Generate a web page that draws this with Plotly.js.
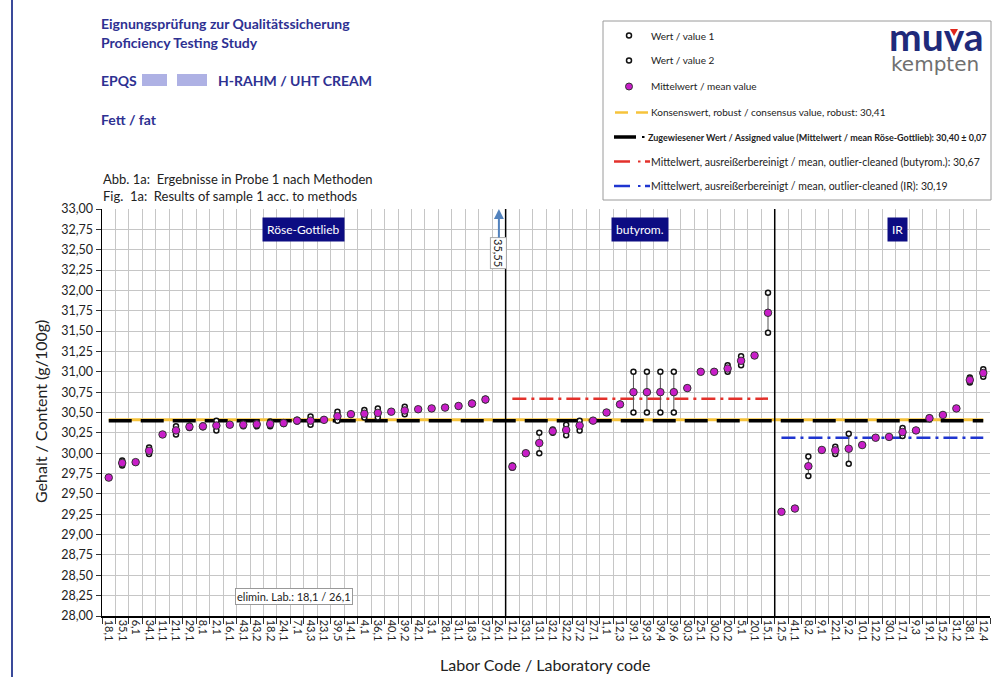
<!DOCTYPE html>
<html><head><meta charset="utf-8">
<script src="https://cdn.plot.ly/plotly-3.0.1.min.js"></script>
<style>html,body{margin:0;padding:0;background:#fff}#chart{width:1000px;height:677px}</style>
</head><body><div id="chart"></div>
<script>
// ---------- DATA ----------
const rgLabs = ['18,1','35,1','6,1','34,1','11,1','21,1','29,1','8,1','2,1','16,1','43,1','43,2','18,2','24,1','7,1','43,3','23,1','39,5','14,1','4,1','36,1','40,1','39,2','42,1','3,1','28,1','31,1','18,3','37,1','26,1'];
const rgValue1 = [29.70,29.91,29.89,30.07,30.23,30.33,30.34,30.34,30.40,30.35,30.37,30.38,30.39,30.38,30.41,30.45,30.41,30.51,30.48,30.53,30.55,30.51,30.57,30.54,30.55,30.56,30.58,30.62,30.67,35.55];
const rgValue2 = [29.70,29.85,29.89,29.99,30.23,30.23,30.31,30.32,30.28,30.35,30.33,30.33,30.33,30.36,30.39,30.35,30.41,30.40,30.48,30.44,30.44,30.51,30.48,30.54,30.55,30.56,30.58,30.60,30.65,35.55];
const rgMean   = [29.70,29.88,29.89,30.03,30.23,30.28,30.325,30.33,30.34,30.35,30.35,30.355,30.36,30.37,30.40,30.40,30.41,30.455,30.48,30.485,30.495,30.51,30.525,30.54,30.55,30.56,30.58,30.61,30.66,35.55];

const buLabs = ['12,1','33,1','13,1','32,1','32,2','37,2','27,1','1,1','12,3','39,1','39,3','39,4','39,6','30,3','25,1','30,2','20,2','5,1','20,1','15,1'];
const buValue1 = [29.85,30.00,30.25,30.29,30.35,30.40,30.40,30.50,30.60,31.00,31.00,31.00,31.00,30.80,31.00,31.00,31.08,31.19,31.20,31.97];
const buValue2 = [29.82,30.00,30.00,30.25,30.22,30.28,30.40,30.50,30.60,30.50,30.50,30.50,30.50,30.80,31.00,31.00,31.00,31.08,31.20,31.48];
const buMean   = [29.835,30.00,30.125,30.27,30.285,30.34,30.40,30.50,30.60,30.75,30.75,30.75,30.75,30.80,31.00,31.00,31.04,31.135,31.20,31.725];

const irLabs = ['12,5','41,1','8,2','9,1','22,1','9,2','10,1','12,2','30,1','17,1','9,3','19,1','15,2','31,2','38,1','12,4'];
const irValue1 = [29.28,29.32,29.96,30.04,30.08,30.24,30.10,30.19,30.20,30.31,30.28,30.44,30.47,30.55,30.93,31.03];
const irValue2 = [29.28,29.32,29.72,30.04,29.99,29.87,30.10,30.19,30.20,30.21,30.28,30.42,30.47,30.55,30.87,30.94];
const irMean   = [29.28,29.32,29.84,30.04,30.035,30.055,30.10,30.19,30.20,30.26,30.28,30.43,30.47,30.55,30.90,30.985];

const consensusValue = 30.41;
const assignedValue = 30.40;
const assignedUnc = 0.07;
const butyromMean = 30.67;
const irMeanCleaned = 30.19;
const methodNames = ['Röse-Gottlieb','butyrom.','IR'];
const eliminatedLabs = ['18,1','26,1'];

// ---------- LAYOUT HELPERS ----------
const W=1000,H=677,M={l:102,r:10,t:209,b:61};
const PW=W-M.l-M.r, PH=H-M.t-M.b;
const px = x => (x-M.l)/PW;
const py = y => 1-(y-M.t)/PH;
const fmt = v => v.toFixed(2).replace('.',',');
const FONT = 'Lato, "Liberation Sans", sans-serif';
const NAVY = '#2e3192';

const allCats = rgLabs.concat(buLabs, irLabs);
const value1 = rgValue1.concat(buValue1, irValue1);
const value2 = rgValue2.concat(buValue2, irValue2);
const meanV = rgMean.concat(buMean, irMean);

const connX=[], connY=[];
allCats.forEach((c,i)=>{ if(value1[i]!==value2[i]){ connX.push(c,c,null); connY.push(value1[i],value2[i],null);} });

const first = allCats[0], last = allCats[allCats.length-1];
const traces = [
  {x:[first,last], y:[consensusValue,consensusValue], mode:'lines', line:{color:'#f6c33b', width:3}, hoverinfo:'skip'},
  {x:[first,last], y:[assignedValue,assignedValue], mode:'lines', line:{color:'#000', width:3.5, dash:'23px,9px'}, hoverinfo:'skip'},
  {x:[buLabs[0],buLabs[buLabs.length-1]], y:[butyromMean,butyromMean], mode:'lines', line:{color:'#e3312b', width:2.5, dash:'14px,5px,3px,5px'}, hoverinfo:'skip'},
  {x:[irLabs[0],irLabs[irLabs.length-1]], y:[irMeanCleaned,irMeanCleaned], mode:'lines', line:{color:'#1f35d0', width:2.5, dash:'14px,5px,3px,5px'}, hoverinfo:'skip'},
  {x:connX, y:connY, mode:'lines', line:{color:'#555', width:1}, hoverinfo:'skip', connectgaps:false},
  {x:allCats, y:value1, mode:'markers', marker:{size:5, color:'#fff', line:{color:'#111', width:1.5}}, hoverinfo:'skip'},
  {x:allCats, y:value2, mode:'markers', marker:{size:5, color:'#fff', line:{color:'#111', width:1.5}}, hoverinfo:'skip'},
  {x:allCats, y:meanV, mode:'markers', marker:{size:7.5, color:'#c81ec8', line:{color:'#333', width:1}}, hoverinfo:'skip'}
];

const rgEnd = rgLabs.length-0.5, buEnd = rgLabs.length+buLabs.length-0.5;
const shapes = [
  {type:'line', xref:'x', yref:'paper', x0:rgEnd, x1:rgEnd, y0:0, y1:1, line:{color:'#000', width:1.5}},
  {type:'line', xref:'x', yref:'paper', x0:buEnd, x1:buEnd, y0:0, y1:1, line:{color:'#000', width:1.5}},
  // page frame
  {type:'line', xref:'paper', yref:'paper', x0:px(12), x1:px(12), y0:py(0), y1:py(677), line:{color:'#3a4a9a', width:2}},
  // blurred header boxes
  {type:'rect', xref:'paper', yref:'paper', x0:px(142), x1:px(167), y0:py(74), y1:py(86), fillcolor:'#aeb1e4', line:{width:0}},
  {type:'rect', xref:'paper', yref:'paper', x0:px(177), x1:px(207), y0:py(74), y1:py(86), fillcolor:'#aeb1e4', line:{width:0}},
  // legend box
  {type:'rect', xref:'paper', yref:'paper', x0:px(603), x1:px(991), y0:py(21), y1:py(200), line:{color:'#9a9a9a', width:1}, fillcolor:'rgba(0,0,0,0)'},
  // legend symbols
  {type:'circle', xref:'paper', yref:'paper', xsizemode:'pixel', ysizemode:'pixel', xanchor:px(629), yanchor:py(35.5), x0:-2.5, x1:2.5, y0:-2.5, y1:2.5, fillcolor:'#fff', line:{color:'#111', width:1.5}},
  {type:'circle', xref:'paper', yref:'paper', xsizemode:'pixel', ysizemode:'pixel', xanchor:px(629), yanchor:py(60.5), x0:-2.5, x1:2.5, y0:-2.5, y1:2.5, fillcolor:'#fff', line:{color:'#111', width:1.5}},
  {type:'circle', xref:'paper', yref:'paper', xsizemode:'pixel', ysizemode:'pixel', xanchor:px(629), yanchor:py(86.5), x0:-3.5, x1:3.5, y0:-3.5, y1:3.5, fillcolor:'#c81ec8', line:{color:'#333', width:1}},
  {type:'line', xref:'paper', yref:'paper', x0:px(615), x1:px(628), y0:py(112.5), y1:py(112.5), line:{color:'#f6c33b', width:2.5}},
  {type:'line', xref:'paper', yref:'paper', x0:px(636), x1:px(648), y0:py(112.5), y1:py(112.5), line:{color:'#f6c33b', width:2.5}},
  {type:'line', xref:'paper', yref:'paper', x0:px(614), x1:px(636), y0:py(137), y1:py(137), line:{color:'#000', width:3.5}},
  {type:'line', xref:'paper', yref:'paper', x0:px(642), x1:px(644.5), y0:py(137), y1:py(137), line:{color:'#000', width:2}},
  {type:'line', xref:'paper', yref:'paper', x0:px(614), x1:px(630), y0:py(161.5), y1:py(161.5), line:{color:'#e3312b', width:2.5}},
  {type:'line', xref:'paper', yref:'paper', x0:px(638), x1:px(640.5), y0:py(161.5), y1:py(161.5), line:{color:'#e3312b', width:2}},
  {type:'line', xref:'paper', yref:'paper', x0:px(645), x1:px(650), y0:py(161.5), y1:py(161.5), line:{color:'#e3312b', width:2.5}},
  {type:'line', xref:'paper', yref:'paper', x0:px(614), x1:px(630), y0:py(186), y1:py(186), line:{color:'#1f35d0', width:2.5}},
  {type:'line', xref:'paper', yref:'paper', x0:px(638), x1:px(640.5), y0:py(186), y1:py(186), line:{color:'#1f35d0', width:2}},
  {type:'line', xref:'paper', yref:'paper', x0:px(645), x1:px(650), y0:py(186), y1:py(186), line:{color:'#1f35d0', width:2.5}},
  // logo triangle
  {type:'path', xref:'paper', yref:'paper', path:`M ${px(950)} ${py(29)} L ${px(958)} ${py(29)} L ${px(954)} ${py(36)} Z`, fillcolor:'#e1261c', line:{width:0}}
];

function txt(x,y,text,size,opts){ return Object.assign({xref:'paper', yref:'paper', x:px(x), y:py(y), text:text, showarrow:false, xanchor:'left', yanchor:'middle', font:{family:FONT, size:size, color:'#222'}}, opts||{}); }
const nb = '\u00a0';
const HF = {family:FONT,size:14,color:NAVY};
const ann = [
  txt(99,24,'<b>Eignungsprüfung zur Qualitätssicherung</b>',14,{font:HF}),
  txt(99,42.5,'<b>Proficiency Testing Study</b>',14,{font:HF}),
  txt(99,80,'<b>EPQS</b>',14,{font:HF}),
  txt(216,80,'<b>H-RAHM / UHT CREAM</b>',14,{font:HF}),
  txt(99,119,'<b>Fett / fat</b>',14,{font:HF}),
  txt(101,178.5,'Abb. 1a:'+nb+' Ergebnisse in Probe 1 nach Methoden',13),
  txt(101,195.5,'Fig.'+nb+' 1a:'+nb+' Results of sample 1 acc. to methods',13),
  // legend texts
  txt(649,35.5,'Wert / value 1',10),
  txt(649,60.5,'Wert / value 2',10),
  txt(649,86.5,'Mittelwert / mean value',10),
  txt(649,112.5,'Konsenswert, robust / consensus value, robust: '+fmt(consensusValue),10),
  txt(646,137,'<b>Zugewiesener Wert / Assigned value (Mittelwert / mean '+methodNames[0]+'): '+fmt(assignedValue)+' ± '+fmt(assignedUnc)+'</b>',9),
  txt(649,161.5,'Mittelwert, ausreißerbereinigt / mean, outlier-cleaned ('+methodNames[1]+'): '+fmt(butyromMean),10.5),
  txt(649,186,'Mittelwert, ausreißerbereinigt / mean, outlier-cleaned ('+methodNames[2]+'): '+fmt(irMeanCleaned),10.5),
  // logo
  txt(887,36,'<b>muva</b>',39,{font:{family:FONT,size:39,color:'#1f2a7a'}}),
  txt(889,64,'kempten',20,{font:{family:'"DejaVu Sans", sans-serif',size:20,color:'#707070'}}),
  // axis titles
  txt(40,412,'Gehalt / Content (g/100g)',16,{textangle:-90, xanchor:'center', font:{family:FONT,size:16,color:'#222'}}),
  txt(545,664,'Labor Code / Laboratory code',16,{xanchor:'center', font:{family:FONT,size:16,color:'#222'}}),
  // method boxes
  {xref:'x', yref:'y', x:14.45, y:32.75, text:methodNames[0], showarrow:false, bgcolor:'#0c0c82', borderpad:4, font:{family:FONT,size:12,color:'#fff'}},
  {xref:'x', yref:'y', x:39.5, y:32.75, text:methodNames[1], showarrow:false, bgcolor:'#0c0c82', borderpad:4, font:{family:FONT,size:12,color:'#fff'}},
  {xref:'x', yref:'y', x:58.6, y:32.75, text:methodNames[2], showarrow:false, bgcolor:'#0c0c82', borderpad:4, font:{family:FONT,size:12,color:'#fff'}},
  // eliminated labs
  {xref:'x', yref:'y', x:13.8, y:28.24, text:'elimin. Lab.: '+eliminatedLabs.join(' / '), showarrow:false, bgcolor:'#fff', bordercolor:'#999', borderwidth:1, borderpad:1, font:{family:FONT,size:11,color:'#222'}},
  // off-scale value arrow
  {xref:'x', yref:'y', x:allCats.indexOf('26,1'), y:33, ax:0, ay:44, text:fmt(meanV[allCats.indexOf('26,1')]), textangle:90, showarrow:true, arrowhead:2, arrowsize:1, arrowwidth:2, arrowcolor:'#5282bd', bgcolor:'#fff', bordercolor:'#aaa', borderwidth:1, borderpad:1, font:{family:FONT,size:11,color:'#222'}}
];

const layout = {
  width:W, height:H, margin:M, paper_bgcolor:'#fff', plot_bgcolor:'#fff', showlegend:false,
  separators:',.', font:{family:FONT, color:'#222'},
  xaxis:{type:'category', categoryorder:'array', categoryarray:allCats, range:[-0.5, allCats.length-0.5], tickson:'boundaries',
    tickmode:'linear', tick0:0, dtick:1,
    ticks:'outside', ticklen:6, tickcolor:'#333', showgrid:true, gridcolor:'#c6c6c6', gridwidth:1, tickangle:90,
    tickfont:{family:FONT, size:11, color:'#222'}, showline:true, linecolor:'#000', linewidth:1.5, zeroline:false, fixedrange:true},
  yaxis:{range:[28,33], tick0:28, dtick:0.25, tickformat:'.2f', ticks:'outside', ticklen:5, tickcolor:'#333',
    showgrid:true, gridcolor:'#c6c6c6', gridwidth:1, tickfont:{family:FONT, size:12.5, color:'#222'},
    showline:true, linecolor:'#000', linewidth:1.5, zeroline:false, fixedrange:true},
  shapes:shapes, annotations:ann
};
Plotly.newPlot('chart', traces, layout, {displayModeBar:false, staticPlot:true});
</script></body></html>
